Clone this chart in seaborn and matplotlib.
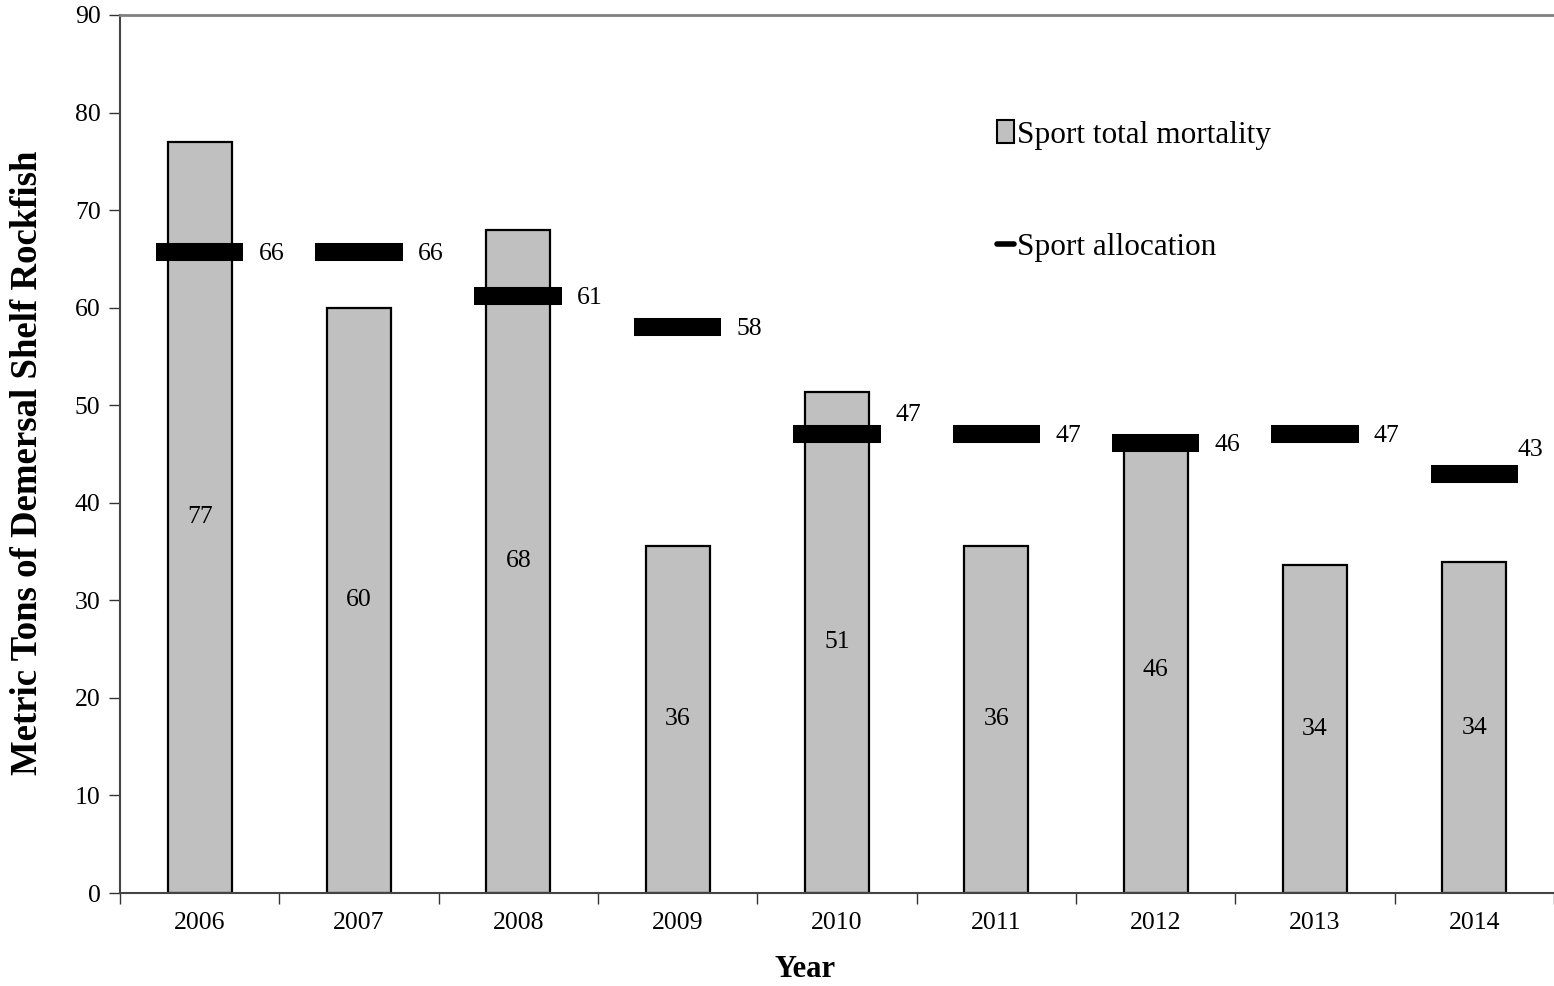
import numpy as np
import pandas as pd
import matplotlib
matplotlib.use("Agg")
import matplotlib.pyplot as plt
import seaborn as sns
from matplotlib.patches import Patch
from matplotlib.lines import Line2D

# Dane
years = ['2006', '2007', '2008', '2009', '2010', '2011', '2012', '2013', '2014']
mortality = [77.0, 60.0, 68.0, 35.6, 51.4, 35.6, 45.7, 33.6, 33.9]
allocation = [65.7, 65.7, 61.2, 58.0, 47.0, 47.0, 46.1, 47.0, 43.0]

df = pd.DataFrame({'Year': years, 'Mortality': mortality, 'Allocation': allocation})

sns.set_style('white')
plt.rcParams['font.family'] = ['Liberation Serif', 'DejaVu Serif']
plt.rcParams['text.color'] = 'black'
plt.rcParams['axes.labelcolor'] = 'black'
plt.rcParams['xtick.color'] = 'black'
plt.rcParams['ytick.color'] = 'black'

fig = plt.figure(figsize=(15.54, 9.86), dpi=100)
ax = fig.add_axes([0.0772, 0.0943, 0.9228, 0.8905])

sns.barplot(data=df, x='Year', y='Mortality', color='#c0c0c0', width=0.4,
            edgecolor='black', linewidth=1.6, saturation=1, ax=ax)

# Przydzial - grube poziome kreski
xs = np.arange(len(years))
ax.hlines(df['Allocation'], xs - 0.275, xs + 0.275, colors='black', linewidth=13, zorder=3)

# Etykiety slupkow
for i, v in enumerate(mortality):
    ax.text(i, v / 2, f'{v:.0f}', ha='center', va='center', fontsize=18.5)

# Etykiety przydzialu
for i, v in enumerate(allocation):
    dx, dy = 0.37, -0.2
    if years[i] == '2010':
        dy = 2.0
    if years[i] == '2014':
        dx, dy = 0.27, 2.4
    ax.text(i + dx, v + dy, f'{v:.0f}', ha='left', va='center', fontsize=18.5)

ax.set_xlim(-0.5, len(years) - 0.5)
ax.set_ylim(0, 90)
ax.set_yticks(range(0, 91, 10))
ax.set_xticks(np.arange(-0.5, len(years), 1.0))
ax.set_xticklabels([])
ax.set_xticks(xs, minor=True)
ax.set_xticklabels(years, minor=True)
ax.tick_params(axis='x', which='major', direction='out', length=8, width=1, color='#333333', bottom=True)
ax.tick_params(axis='x', which='minor', length=0, labelsize=18.5, pad=14)
ax.tick_params(axis='y', direction='out', length=8, width=1, color='#333333', left=True, labelsize=18.5, pad=6)

for s in ['left', 'bottom']:
    ax.spines[s].set_color('#444444')
    ax.spines[s].set_linewidth(1.5)
ax.spines['top'].set_color('#808080')
ax.spines['top'].set_linewidth(2)
ax.spines['right'].set_visible(False)

ax.set_xlabel('Year', fontsize=22, fontweight='bold')
ax.xaxis.set_label_coords((805 - 120) / 1434, -0.071)
ax.set_ylabel('Metric Tons of Demersal Shelf Rockfish', fontsize=26.5, fontweight='bold')
ax.yaxis.set_label_coords(-0.052, 0.49)

handles = [Patch(facecolor='#c0c0c0', edgecolor='black', linewidth=1.5),
           Line2D([0], [0], color='black', linewidth=4)]
ax.legend(handles, ['Sport total mortality', 'Sport allocation'], loc='upper left',
          bbox_to_anchor=(0.592, 0.912), frameon=False, fontsize=22.5,
          handlelength=0.55, handleheight=0.75, handletextpad=0.1, labelspacing=2.65)

fig.savefig('out.png', dpi=100)
